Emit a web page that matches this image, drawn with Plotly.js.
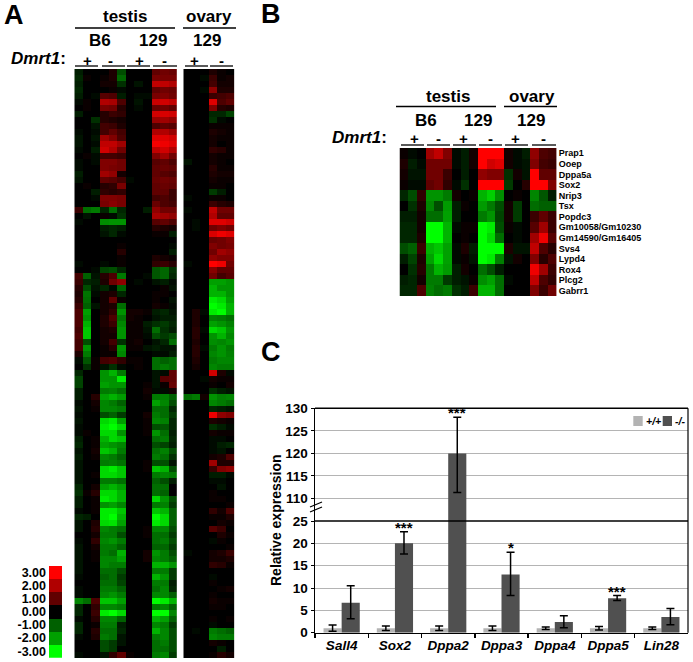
<!DOCTYPE html>
<html><head><meta charset="utf-8">
<script src="https://cdn.plot.ly/plotly-3.0.1.min.js"></script>
<style>html,body{margin:0;padding:0;background:#fff}</style>
</head><body><div id="chart" style="width:693px;height:662px"></div>
<script>
// Panel A values are log2-style expression in tenths
const panelATestis = [
[-3,0,0,0,3,-8,0,0,0,10,12,11],[-4,1,0,1,3,-11,0,0,0,13,13,13],[-3,0,0,2,2,-5,0,-2,0,22,22,20],[-4,0,0,0,1,-1,0,0,0,10,12,11],
[-3,0,-1,9,8,-3,0,-1,-1,13,14,12],[-1,1,0,20,19,8,0,-2,0,23,24,22],[0,1,0,13,12,4,0,-1,0,11,12,10],[-3,0,0,4,6,5,0,0,0,24,25,24],
[0,0,-5,4,3,2,0,0,0,17,18,16],[0,0,-2,7,6,3,0,0,0,8,10,9],[-1,0,-1,7,10,7,0,0,0,20,20,17],[-2,0,-2,18,14,8,0,0,0,26,26,24],
[-2,0,-1,22,22,18,0,0,0,29,28,26],[-1,0,-3,24,20,12,0,0,0,22,24,20],[0,1,-1,7,7,6,0,0,0,14,18,12],[-1,0,-1,14,14,12,0,0,0,9,10,8],
[-1,0,0,14,13,12,0,0,0,10,11,10],[-3,0,0,18,16,2,0,0,0,10,9,8],[-2,0,0,10,9,7,-1,0,0,11,12,11],[0,1,0,4,5,13,0,0,0,10,11,10],
[0,0,-3,5,4,5,0,0,0,10,10,6],[0,0,-1,14,14,13,0,0,0,7,8,6],[0,0,0,13,15,13,0,0,0,11,8,7],[6,-12,-14,-4,-12,-4,0,0,-3,16,12,12],
[0,-2,0,1,-1,-5,0,0,0,19,18,16],[-1,0,0,-17,-18,-18,0,0,0,9,10,8],[0,0,0,-3,-4,-3,0,0,0,4,3,2],[0,0,0,-2,-4,-1,0,0,0,1,1,-3],
[0,0,0,0,0,0,0,0,0,0,0,0],[0,0,0,0,0,1,0,0,0,0,0,-1],[0,0,0,0,0,4,0,0,0,0,0,-3],[0,0,0,0,0,1,0,0,0,3,2,1],
[-1,0,0,-1,0,1,0,0,0,5,6,4],[0,0,-1,-7,-8,-4,0,0,0,-9,-11,-5],[7,-10,-2,4,8,-14,0,0,-1,-9,-11,-4],[6,-4,-3,3,12,16,0,-1,0,-2,-3,-1],
[4,-8,-2,-4,-1,-10,0,0,0,0,1,-2],[3,-13,-1,2,3,-4,0,0,0,1,1,0],[4,-12,0,2,10,1,0,0,0,1,0,-2],[6,-10,-2,2,3,-12,0,0,0,2,1,-1],
[8,-20,0,2,5,-18,2,2,1,-3,-4,-2],[8,-18,0,3,8,-13,2,1,0,-2,-3,-3],[8,-22,0,3,6,-16,1,1,-3,-5,-6,-4],[7,-24,0,2,3,-18,1,1,-2,-12,-5,-3],
[8,-24,0,2,2,-18,1,1,-1,-8,-6,-8],[7,-8,0,2,7,-5,1,2,0,-2,-4,-12],[7,-18,0,1,4,-18,1,1,-2,-3,-2,-2],[3,-14,0,1,1,-16,0,0,0,-1,-1,-3],
[-1,-9,1,7,8,5,1,1,0,-12,-10,-12],[0,-5,1,-2,-5,-1,0,1,0,-12,-14,-12],[-4,0,0,-18,-22,-14,0,0,0,-2,-1,10],[-7,0,0,-18,-18,-28,0,0,0,-2,9,10],
[-7,0,0,-20,-18,-18,0,0,1,-2,1,11],[-3,0,0,-14,-15,-12,0,0,2,-1,-1,2],[-3,0,4,-20,-22,-19,0,0,1,-14,-15,-10],[-1,0,2,-16,-14,-10,0,0,0,-20,-16,-8],
[-2,0,1,-16,-16,-14,0,0,0,-12,-12,-4],[-1,0,0,-8,-10,-6,0,0,2,-14,-12,-6],[-2,0,0,-26,-28,-20,0,0,1,-16,-15,-4],[-1,0,0,-28,-30,-26,0,0,1,-8,-9,-4],
[-1,1,0,-26,-26,-18,0,0,1,-18,-12,-3],[-3,0,1,-22,-26,-24,0,0,0,-12,-14,-4],[-4,0,1,-20,-18,-16,0,0,0,-8,-7,-3],[-2,0,2,-24,-22,-14,0,0,0,-12,-15,-8],
[-3,0,1,-16,-14,-10,0,0,0,-14,-12,-5],[-2,0,0,-14,-15,-13,0,0,1,-8,-8,-2],[-2,0,0,-26,-28,-24,0,0,1,-24,-22,-8],[-2,0,1,-26,-26,-24,0,0,0,-14,-16,-14],
[-2,0,0,-14,-14,-12,0,0,0,-10,-8,-3],[-4,0,2,-20,-22,-19,0,0,0,-12,-12,0],[-5,1,4,-26,-26,-22,0,0,0,-12,-10,0],[-3,0,1,-28,-26,-22,0,0,0,-26,-18,-8],
[-3,0,1,-18,-20,-16,0,0,0,-14,-15,-6],[-1,0,1,-28,-28,-24,0,0,0,-24,-22,-10],[-4,-3,0,-28,-30,-22,0,0,0,-30,-26,-10],[-2,0,3,-26,-27,-20,0,0,0,-28,-26,-10],
[-2,0,4,-16,-14,-12,0,0,1,-16,-16,-8],[0,0,2,-14,-14,-8,0,0,1,-12,-12,-6],[-1,0,5,-16,-18,-14,0,0,0,-12,-14,-8],[-2,0,2,-14,-14,-10,0,0,0,-10,-11,-6],
[-2,0,1,-14,-12,-22,0,0,2,-18,-14,-8],[-2,0,1,-16,-16,-20,0,0,2,-16,-14,-10],[-2,0,0,-16,-14,-14,0,0,0,-22,-22,-18],[-2,0,0,-12,-12,-8,0,0,0,-14,-14,-6],
[-1,0,0,-10,-12,-6,0,0,0,-22,-18,-6],[0,0,0,-12,-12,-7,0,0,0,-14,-14,-3],[-1,0,0,-14,-14,-10,0,0,0,-12,-16,-4],[-1,0,0,-16,-18,-14,0,0,0,-16,-16,-10],
[-16,-12,8,-24,-24,-20,0,0,0,-30,-28,-22],[-4,0,5,-16,-16,-14,0,0,0,-14,-16,-10],[-4,0,6,-28,-30,-26,0,0,0,-30,-30,-16],[-1,0,4,-16,-16,-10,0,0,0,-22,-20,-10],
[-4,0,1,-14,-14,-3,0,0,0,-16,-14,-6],[-4,0,4,-12,-12,-4,0,0,0,-22,-16,-8],[-1,0,3,-14,-12,-2,0,0,0,-14,-16,-8],[0,0,0,-8,-6,-2,0,0,0,-12,-14,-8],
[0,0,0,-8,-6,0,0,0,0,-12,-12,-8],[-1,0,0,-2,5,10,1,0,0,-14,-16,-6]];
const panelAOvary = [
[0,0,0,3,1,0],[0,0,-1,6,1,2],[0,0,0,7,2,2],[0,0,-1,16,3,3],[0,0,0,6,7,8],[0,0,0,26,8,10],[0,0,0,14,4,3],[0,0,0,-4,-4,-7],
[0,0,0,-5,-1,0],[0,0,0,1,1,1],[0,0,0,3,2,1],[0,0,0,2,1,1],[0,0,0,2,0,1],[0,0,0,5,4,1],[0,0,0,2,1,1],[-2,0,0,2,1,0],
[0,0,0,4,1,1],[0,0,0,3,2,2],[0,0,0,2,1,1],[0,0,0,1,1,0],[0,0,0,-6,-3,0],[-1,0,0,1,1,0],[0,0,0,6,4,3],[-1,0,0,22,12,12],
[0,0,0,20,10,10],[0,-1,0,26,26,24],[0,-1,0,12,14,12],[0,0,0,25,28,26],[0,0,0,11,12,14],[0,0,0,14,12,13],[0,0,0,12,18,16],[0,0,0,16,14,14],
[-1,0,0,30,28,12],[0,0,0,15,10,10],[0,0,0,12,7,9],[0,0,0,-20,-20,-18],[0,0,0,-22,-18,-18],[0,0,0,-22,-22,-18],[0,0,0,-28,-26,-20],[0,0,0,-30,-28,-22],
[0,3,-1,-28,-30,-22],[0,3,0,-15,-14,-12],[0,3,0,-20,-18,-15],[0,4,-1,-26,-24,-18],[0,4,0,-18,-22,-16],[0,3,0,-17,-16,-18],[0,4,-1,-14,-18,-14],[0,4,0,-16,-18,-15],
[0,3,0,-14,-16,-16],[0,2,0,-16,-14,-14],[0,0,0,24,3,-1],[0,0,-1,2,1,1],[0,0,0,1,0,2],[0,0,0,-5,-3,-2],[-12,-14,2,-18,-15,-16],[0,0,0,-16,-14,-12],
[0,0,0,-4,-3,-2],[0,0,0,28,16,14],[0,0,0,3,2,1],[0,0,0,-5,-3,-1],[0,0,0,2,1,1],[0,0,0,-1,-1,0],[0,0,0,-1,-3,-4],[0,0,0,-1,-2,0],
[0,0,0,2,3,8],[0,0,0,18,3,3],[0,0,0,6,14,16],[0,0,0,-3,-3,-1],[0,0,0,-1,-1,0],[0,0,0,0,-2,0],[0,0,0,1,0,0],[0,0,0,1,1,0],
[0,0,0,0,0,1],[0,0,0,5,2,8],[0,0,0,1,1,3],[0,0,0,0,2,1],[0,0,0,9,6,0],[0,0,0,0,3,1],[0,0,0,-1,1,0],[0,0,0,0,0,1],
[-1,0,0,2,3,6],[0,0,0,2,2,3],[0,0,0,5,4,1],[0,0,0,0,0,0],[0,0,0,-1,0,0],[0,0,0,1,0,0],[0,0,0,0,1,2],[0,0,0,1,0,0],
[0,0,0,2,1,1],[0,0,0,1,1,0],[0,0,0,0,0,0],[0,0,0,1,0,1],[0,0,0,-1,0,0],[0,-1,0,-14,-12,-10],[0,0,0,-16,-14,-14],[0,0,0,2,1,0],
[0,0,0,0,-3,0],[0,0,0,1,4,2]];
// Panel B
const panelBGenes = ['Prap1','Ooep','Dppa5a','Sox2','Nrip3','Tsx','Popdc3','Gm10058/Gm10230','Gm14590/Gm16405','Svs4','Lypd4','Rox4','Plcg2','Gabrr1'];
const panelBValues = [
[1,-1,0,18,22,14,-1,-3,2,30,30,30,2,-1,-3,16,8,7],
[3,-3,-1,12,12,12,-1,-3,2,30,24,26,2,-1,-2,14,7,6],
[2,-2,-2,12,12,6,0,-3,0,16,14,14,-5,2,-2,30,10,10],
[1,-1,-1,10,12,5,-1,-5,0,30,30,30,-6,0,4,30,30,14],
[-4,-8,5,-18,-18,-14,2,0,1,-22,-25,-17,0,1,0,-16,-9,-3],
[0,-5,3,-16,-8,-19,-3,1,0,-19,-14,-8,2,-6,0,-12,-10,-10],
[-3,-3,2,-12,-12,-20,-3,0,0,-14,-18,-7,2,-6,0,6,10,6],
[-4,-4,2,-30,-30,-22,-1,1,1,-30,-28,-8,1,-1,0,9,18,6],
[-4,-4,3,-30,-30,-22,0,1,0,-30,-26,-12,0,-1,0,18,28,9],
[-8,-10,6,-22,-24,-20,-1,3,-3,-30,-30,-30,3,-2,-2,22,8,4],
[-3,-7,3,-20,-26,-20,-1,1,-2,-30,-28,-15,-2,2,0,14,4,8],
[0,-5,4,-14,-22,-19,-3,2,0,-12,-8,-3,0,0,0,28,18,6],
[-3,-4,2,-14,-14,-6,-3,-2,1,-17,-20,-12,-1,0,0,22,8,5],
[-4,-4,8,-15,-12,-14,-5,-3,6,-22,-22,-12,0,0,0,14,6,12]];
// Colour key
const keyLevels = [3,2,1,0,-1,-2,-3];
const keyLabels = ['3.00','2.00','1.00','0.00','-1.00','-2.00','-3.00'];
// Panel C
const genes = ['Sall4','Sox2','Dppa2','Dppa3','Dppa4','Dppa5','Lin28'];
const wildType = [1,1,1,1,1,1,1];
const wildErr = [0.7,0.5,0.5,0.5,0.3,0.4,0.3];
const knockout = [6.7,20,120,13,2.4,7.7,3.5];
const koErrUp = [3.8,2.6,8,5,1.4,0.6,1.9];
const koErrDown = [3.6,2.4,8.7,4.7,1.3,0.5,1.7];
const stars = ['','***','***','*','','***',''];

const W=693,H=662, FONT='Liberation Sans, Arial, sans-serif';
const px=x=>x/W, py=y=>1-y/H;
const tenths=m=>m.map(r=>r.map(v=>v/10));
const cs=[[0,'#00ff00'],[1/6,'#00a000'],[1/3,'#006000'],[0.5,'#000000'],[2/3,'#600000'],[5/6,'#b00000'],[1,'#ff0000']];
const heat=(z,xa,ya)=>({type:'heatmap',z,xaxis:xa,yaxis:ya,colorscale:cs,zmin:-3,zmax:3,showscale:false,hoverinfo:'skip'});

const dataTraces=[
 heat(tenths(panelATestis),'x','y'),
 heat(tenths(panelAOvary),'x2','y2'),
 Object.assign(heat(tenths(panelBValues),'x3','y3'),{y:panelBGenes}),
 Object.assign(heat(keyLevels.map(v=>[v]),'x4','y4'),{y:keyLabels}),
];
const barSet=(xa,ya)=>[
 {type:'bar',x:genes,y:wildType,xaxis:xa,yaxis:ya,name:'+/+',marker:{color:'#b3b3b3'},showlegend:false,
  error_y:{type:'data',array:wildErr,color:'#000',thickness:1.5,width:4}},
 {type:'bar',x:genes,y:knockout,xaxis:xa,yaxis:ya,name:'-/-',marker:{color:'#505050'},showlegend:false,
  error_y:{type:'data',symmetric:false,array:koErrUp,arrayminus:koErrDown,color:'#000',thickness:1.5,width:4}}];
dataTraces.push(...barSet('x5','y5'),...barSet('x6','y6'));

const hidden=(dom,rng,anchor)=>({domain:dom,range:rng,visible:false,fixedrange:true,anchor});
const layout={
 width:W,height:H,margin:{l:0,r:0,t:0,b:0},paper_bgcolor:'#fff',plot_bgcolor:'#fff',showlegend:false,
 font:{family:FONT,color:'#000'},barmode:'group',bargap:0.32,bargroupgap:0,
 xaxis:hidden([px(74.3),px(176.8)],[-0.5,11.5],'y'),
 yaxis:hidden([py(658),py(69)],[panelATestis.length-0.5,-0.5],'x'),
 xaxis2:hidden([px(183.3),px(234.5)],[-0.5,5.5],'y2'),
 yaxis2:hidden([py(658),py(69)],[panelAOvary.length-0.5,-0.5],'x2'),
 xaxis3:hidden([px(399.5),px(556.8)],[-0.5,17.5],'y3'),
 yaxis3:{domain:[py(296),py(148)],anchor:'x3',side:'right',autorange:'reversed',type:'category',fixedrange:true,
  tickmode:'array',tickvals:panelBGenes,ticktext:panelBGenes,
  showgrid:false,zeroline:false,showline:false,ticks:'',tickfont:{size:9,weight:700},ticklabelstandoff:1},
 xaxis4:hidden([px(49),px(62)],[-0.5,0.5],'y4'),
 yaxis4:{domain:[py(657.7),py(566)],anchor:'x4',autorange:'reversed',type:'category',fixedrange:true,
  tickmode:'array',tickvals:keyLabels,ticktext:keyLabels,
  showgrid:false,zeroline:false,showline:false,ticks:'',tickfont:{size:12.5,weight:700},ticklabelstandoff:2},
 xaxis5:{domain:[px(315),px(688)],anchor:'y5',type:'category',categoryorder:'array',categoryarray:genes,tickson:'boundaries',
  ticks:'outside',ticklen:4,tickwidth:1.5,tickcolor:'#000',showgrid:false,showline:true,linecolor:'#000',linewidth:1.5,
  tickfont:{size:13.5,weight:700,style:'italic'},fixedrange:true},
 yaxis5:{domain:[py(632.7),py(521)],anchor:'x5',range:[0,25],tick0:0,dtick:5,ticks:'outside',ticklen:3,tickcolor:'#000',
  showgrid:true,gridcolor:'#b4b4b4',gridwidth:1,zeroline:false,showline:true,linecolor:'#000',linewidth:1.5,
  tickfont:{size:13.5,weight:700},fixedrange:true},
 xaxis6:{domain:[px(315),px(688)],anchor:'y6',type:'category',categoryorder:'array',categoryarray:genes,showticklabels:false,ticks:'',
  showgrid:false,showline:false,fixedrange:true},
 yaxis6:{domain:[py(521),py(408.3)],anchor:'x6',range:[105,130],tickmode:'array',tickvals:[110,115,120,125,130],ticks:'outside',ticklen:3,tickcolor:'#000',
  showgrid:true,gridcolor:'#b4b4b4',gridwidth:1,zeroline:false,showline:true,linecolor:'#000',linewidth:1.5,
  tickfont:{size:13.5,weight:700},fixedrange:true},
 shapes:[],annotations:[]
};
const text=(x,y,t,size,extra)=>layout.annotations.push(Object.assign({xref:'paper',yref:'paper',x:px(x),y:py(y),text:t,showarrow:false,
  xanchor:'center',yanchor:'middle',font:{size,family:FONT,color:'#000'}},extra||{}));
const line=(x0,y0,x1,y1,w,color)=>layout.shapes.push({type:'line',xref:'paper',yref:'paper',x0:px(x0),x1:px(x1),y0:py(y0),y1:py(y1),line:{color:color||'#000',width:w||1}});
const box=(x0,y0,x1,y1,c)=>layout.shapes.push({type:'rect',xref:'paper',yref:'paper',x0:px(x0),x1:px(x1),y0:py(y0),y1:py(y1),fillcolor:c,line:{width:0}});

// Panel letters
text(14,15,'<b>A</b>',27); text(271,14,'<b>B</b>',27); text(271,352,'<b>C</b>',27);
// Panel A header
text(125,17,'<b>testis</b>',17); text(209,17,'<b>ovary</b>',17);
line(75,28,175,28,1.3); line(183,28,236,28,1.3);
text(100,41,'<b>B6</b>',17); text(153,41,'<b>129</b>',17); text(207,41,'<b>129</b>',17);
text(68,59,'<b><i>Dmrt1</i>:</b>',17,{xanchor:'right'});
[87,111,139,164,194,222].forEach((x,i)=>text(x,60,'<b>'+(i%2?'-':'+')+'</b>',15));
[[75,98],[102,125],[127,150],[153,177],[185,208],[210,233]].forEach(s=>line(s[0],66,s[1],66,1.3));
// Panel B header
text(448,96,'<b>testis</b>',17); text(532,96,'<b>ovary</b>',17);
line(396,106.5,496,106.5,1.3); line(504,106.5,557,106.5,1.3);
text(426,120,'<b>B6</b>',17); text(478,120,'<b>129</b>',17); text(531,120,'<b>129</b>',17);
text(389,137,'<b><i>Dmrt1</i>:</b>',17,{xanchor:'right'});
[414,438,463,490,515,543].forEach((x,i)=>text(x,138,'<b>'+(i%2?'-':'+')+'</b>',15));
[[401,424],[427,450],[453,476],[479,502],[505,528],[532,556]].forEach(s=>line(s[0],145,s[1],145,1.3));
// Panel C decoration
line(315,521,688,521,1.6);
line(315,408.3,688,408.3,1.6);
line(688,408.3,688,632.7,1.2);
line(310,507,322,502,1.2); line(310,512,322,507,1.2);
text(276,520,'<b>Relative expression</b>',14,{textangle:-90});
box(633.3,416,642.7,426,'#b3b3b3'); box(662.7,416,672,426,'#505050');
text(644,421,'<b><i>+/+</i></b>',10.5,{xanchor:'left'}); text(673,421,'<b><i>-/-</i></b>',10.5,{xanchor:'left'});
genes.forEach((g,i)=>{ if(!stars[i])return;
 const top=knockout[i]+koErrUp[i], up=top>25;
 layout.annotations.push({xref:up?'x6':'x5',yref:up?'y6':'y5',x:g,y:top,text:'<b>'+stars[i]+'</b>',showarrow:false,xshift:9,
  yanchor:'bottom',yshift:-6,font:{size:15,family:FONT,color:'#000'}});
});
Plotly.newPlot('chart',dataTraces,layout,{staticPlot:true,displayModeBar:false});
</script></body></html>
